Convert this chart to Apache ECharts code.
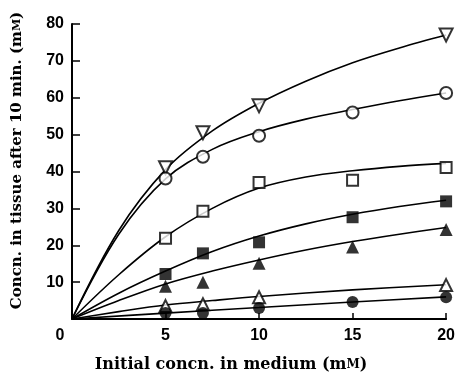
<!DOCTYPE html>
<html>
<head>
<meta charset="utf-8">
<style>
  html, body { margin: 0; padding: 0; background: #fff; }
  #main { width: 458px; height: 378px; }
</style>
<script src="https://cdn.jsdelivr.net/npm/echarts@6/dist/echarts.min.js"></script>
</head>
<body>
<div id="main"></div>
<script>
// measured points, [initial concn, tissue concn]
const downTri = [[5, 41], [7, 50.5], [10, 57.8], [20, 77]];
const openCircle = [[5, 38.1], [7, 44], [10, 49.7], [15, 56], [20, 61.3]];
const openSquare = [[5, 21.9], [7, 29.2], [10, 37], [15, 37.6], [20, 41.1]];
const filledSquare = [[5, 12.2], [7, 17.8], [10, 20.8], [15, 27.6], [20, 31.9]];
const filledTri = [[5, 8.9], [7, 10], [10, 15.1], [15, 19.5], [20, 24.3]];
const openTri = [[5, 3.5], [7, 4], [10, 5.9], [20, 9.2]];
const filledCircle = [[5, 1.6], [7, 1.6], [10, 3], [15, 4.6], [20, 5.9]];

// fitted curves
const downTriCurve = [[0, 0], [2.5, 24], [5, 40.5], [7.5, 51], [10, 58.5], [12.5, 64.5], [15, 69.5], [17.5, 73.5], [20, 77]];
const openCircleCurve = [[0, 0], [2.5, 23], [5, 38], [7.5, 46], [10, 50.8], [12.5, 54.2], [15, 56.8], [17.5, 59.2], [20, 61.3]];
const openSquareCurve = [[0, 0], [2.5, 12], [5, 22.3], [7.5, 30], [10, 35.5], [12.5, 38.5], [15, 40.2], [17.5, 41.4], [20, 42.2]];
const filledSquareCurve = [[0, 0], [2.5, 7], [5, 13], [7.5, 18.3], [10, 22.5], [12.5, 25.8], [15, 28.4], [17.5, 30.5], [20, 32.2]];
const filledTriCurve = [[0, 0], [2.5, 5], [5, 9.5], [7.5, 13], [10, 16], [12.5, 18.7], [15, 21], [17.5, 23], [20, 24.8]];
const openTriCurve = [[0, 0], [2.5, 2], [5, 3.8], [7.5, 5], [10, 6.1], [15, 7.9], [20, 9.3]];
const filledCircleCurve = [[0, 0], [5, 1.6], [10, 3.1], [15, 4.6], [20, 6]];

const xTicks = [0, 5, 10, 15, 20];

const chart = echarts.init(document.getElementById('main'));

function curve(d) {
  return {
    type: 'line', data: d, smooth: 0.35, showSymbol: false, silent: true,
    lineStyle: { color: '#000', width: 1.6 }, z: 2
  };
}
function pts(d, sym, filled, size, rot) {
  return {
    type: 'scatter', data: d, symbol: sym, symbolSize: size, symbolRotate: rot || 0,
    itemStyle: {
      color: filled ? '#000' : '#fff',
      borderColor: '#000',
      borderWidth: filled ? 0 : 2
    },
    z: 3
  };
}

const labelFont = 'Liberation Sans';
const titleFont = 'DejaVu Serif';

chart.setOption({
  animation: false,
  grid: { left: 72, right: 10, top: 24, bottom: 58 },
  xAxis: {
    type: 'value', min: 0, max: 20, interval: 5,
    name: 'Initial concn. in medium (m{s|M})',
    nameLocation: 'middle', nameGap: 38,
    nameTextStyle: {
      fontFamily: titleFont, fontWeight: 'bold', fontSize: 16, color: '#000',
      padding: [0, 56, 0, 0],
      rich: { s: { fontFamily: titleFont, fontWeight: 'bold', fontSize: 12, color: '#000' } }
    },
    axisLine: { lineStyle: { color: '#000', width: 2 } },
    axisTick: { inside: true, length: 6, lineStyle: { color: '#000', width: 1.5 } },
    splitLine: { show: false },
    axisLabel: {
      color: '#000', fontFamily: labelFont, fontWeight: 'bold', fontSize: 16, margin: 9,
      formatter: v => xTicks.indexOf(v) === 0 ? '{z|0}' : String(v),
      rich: { z: { fontFamily: labelFont, fontWeight: 'bold', fontSize: 16, color: '#000', padding: [0, 24, 0, 0] } }
    }
  },
  yAxis: {
    type: 'value', min: 0, max: 80, interval: 10,
    name: 'Concn. in tissue after 10 min. (m{s|M})',
    nameLocation: 'middle', nameGap: 47,
    nameTextStyle: {
      fontFamily: titleFont, fontWeight: 'bold', fontSize: 15, color: '#000',
      padding: [0, 0, 0, 22],
      rich: { s: { fontFamily: titleFont, fontWeight: 'bold', fontSize: 11, color: '#000' } }
    },
    axisLine: { show: true, lineStyle: { color: '#000', width: 2 } },
    axisTick: { show: true, inside: true, length: 8, lineStyle: { color: '#000', width: 1.5 } },
    splitLine: { show: false },
    axisLabel: {
      color: '#000', fontFamily: labelFont, fontWeight: 'bold', fontSize: 16, margin: 8,
      formatter: v => v === 0 ? '' : String(v)
    }
  },
  series: [
    curve(downTriCurve), curve(openCircleCurve), curve(openSquareCurve),
    curve(filledSquareCurve), curve(filledTriCurve), curve(openTriCurve),
    curve(filledCircleCurve),
    pts(downTri, 'triangle', false, 13, 180),
    pts(openCircle, 'circle', false, 12),
    pts(openSquare, 'rect', false, 11),
    pts(filledSquare, 'rect', true, 12),
    pts(filledTri, 'triangle', true, 13),
    pts(openTri, 'triangle', false, 12),
    pts(filledCircle, 'circle', true, 12)
  ]
});
</script>
</body>
</html>
